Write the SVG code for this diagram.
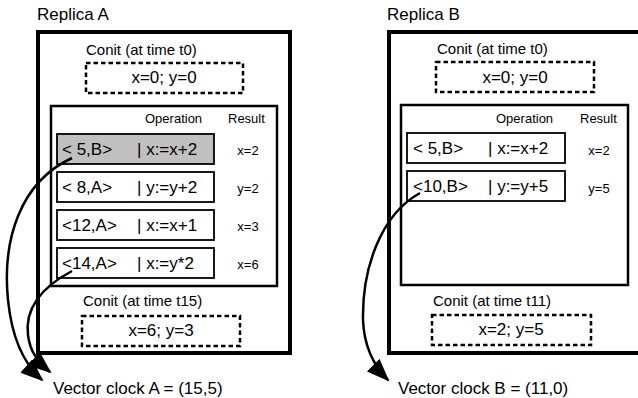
<svg xmlns="http://www.w3.org/2000/svg" width="638" height="398" viewBox="0 0 638 398">
  <style>
    text { font-family: "Liberation Sans", Arial, sans-serif; fill: #000; }
    .title { font-size: 17px; }
    .caption { font-size: 15px; }
    .big { font-size: 17px; }
    .head { font-size: 13px; }
    .res { font-size: 13px; text-anchor: middle; }
    .mid { text-anchor: middle; }
    .outer { fill: #fff; stroke: #000; stroke-width: 4; }
    .inner { fill: #fff; stroke: #000; stroke-width: 2.5; }
    .row { fill: #fff; stroke: #000; stroke-width: 1.8; }
    .row.hl { fill: #c0c0c0; }
    .conit { fill: #fff; stroke: #000; stroke-width: 2.5; stroke-dasharray: 4.5 3; }
    .link { fill: none; stroke: #000; stroke-width: 2.5; marker-end: url(#head); }
  </style>
  <defs>
    <marker id="head" markerUnits="userSpaceOnUse" markerWidth="26" markerHeight="18" refX="21" refY="9" orient="auto">
      <path d="M0,0 L23,9 L0,18 z" fill="#000"/>
    </marker>
  </defs>
  <rect width="638" height="398" fill="#fff"/>

  <!-- Replica A -->
  <g id="replica-a">
    <text class="title" x="37" y="20">Replica A</text>
    <rect class="outer" x="38" y="32" width="252" height="321"/>
    <text class="caption" x="86" y="55">Conit (at time t0)</text>
    <rect class="conit" x="86" y="63" width="157" height="30"/>
    <text class="big mid" x="164" y="83">x=0; y=0</text>
    <rect class="inner" x="51" y="106" width="226" height="180"/>
    <text class="head" x="145" y="123">Operation</text>
    <text class="head" x="228" y="123">Result</text>
  </g>
  <g id="a-op1">
    <rect class="row hl" x="57" y="134" width="157" height="30"/>
    <text class="big" x="62" y="155">&lt; 5,B&gt;</text>
    <text class="big" x="137" y="155">| x:=x+2</text>
    <text class="res" x="248" y="155">x=2</text>
  </g>
  <g id="a-op2">
    <rect class="row" x="57" y="172" width="157" height="30"/>
    <text class="big" x="62" y="193">&lt; 8,A&gt;</text>
    <text class="big" x="137" y="193">| y:=y+2</text>
    <text class="res" x="248" y="193">y=2</text>
  </g>
  <g id="a-op3">
    <rect class="row" x="57" y="210" width="157" height="30"/>
    <text class="big" x="62" y="231">&lt;12,A&gt;</text>
    <text class="big" x="137" y="231">| x:=x+1</text>
    <text class="res" x="248" y="231">x=3</text>
  </g>
  <g id="a-op4">
    <rect class="row" x="57" y="248" width="157" height="30"/>
    <text class="big" x="62" y="269">&lt;14,A&gt;</text>
    <text class="big" x="137" y="269">| x:=y*2</text>
    <text class="res" x="248" y="269">x=6</text>
  </g>
  <g id="a-conit-t15">
    <text class="caption" x="83" y="306">Conit (at time t15)</text>
    <rect class="conit" x="82" y="316" width="158" height="30"/>
    <text class="big mid" x="161" y="336">x=6; y=3</text>
  </g>
  <g id="a-clock">
    <text class="big" x="53" y="394">Vector clock A = (15,5)</text>
  </g>

  <!-- Replica B -->
  <g id="replica-b">
    <text class="title" x="387" y="20">Replica B</text>
    <rect class="outer" x="389" y="32" width="253" height="321"/>
    <text class="caption" x="437" y="54">Conit (at time t0)</text>
    <rect class="conit" x="436" y="62" width="158" height="30"/>
    <text class="big mid" x="515" y="83">x=0; y=0</text>
    <rect class="inner" x="401" y="105" width="227" height="180"/>
    <text class="head" x="496" y="123">Operation</text>
    <text class="head" x="580" y="123">Result</text>
  </g>
  <g id="b-op1">
    <rect class="row" x="407" y="133" width="158" height="30"/>
    <text class="big" x="413" y="154">&lt; 5,B&gt;</text>
    <text class="big" x="488" y="154">| x:=x+2</text>
    <text class="res" x="599" y="155">x=2</text>
  </g>
  <g id="b-op2">
    <rect class="row" x="407" y="171" width="158" height="30"/>
    <text class="big" x="413" y="192">&lt;10,B&gt;</text>
    <text class="big" x="488" y="192">| y:=y+5</text>
    <text class="res" x="599" y="193">y=5</text>
  </g>
  <g id="b-conit-t11">
    <text class="caption" x="433" y="306">Conit (at time t11)</text>
    <rect class="conit" x="432" y="315" width="159" height="30"/>
    <text class="big mid" x="511" y="335">x=2; y=5</text>
  </g>
  <g id="b-clock">
    <text class="big" x="398" y="394">Vector clock B = (11,0)</text>
  </g>

  <!-- operations feeding the vector clocks -->
  <g id="connectors">
    <path class="link" d="M72,158 C20,182 2,240 8,300 C12,340 24,364 42,380"/>
    <path class="link" d="M72,271 C40,288 25,310 28,335 C30,352 38,362 50,372"/>
    <path class="link" d="M420,193 C380,215 362,270 363,320 C364,345 372,364 388,380"/>
  </g>
</svg>
